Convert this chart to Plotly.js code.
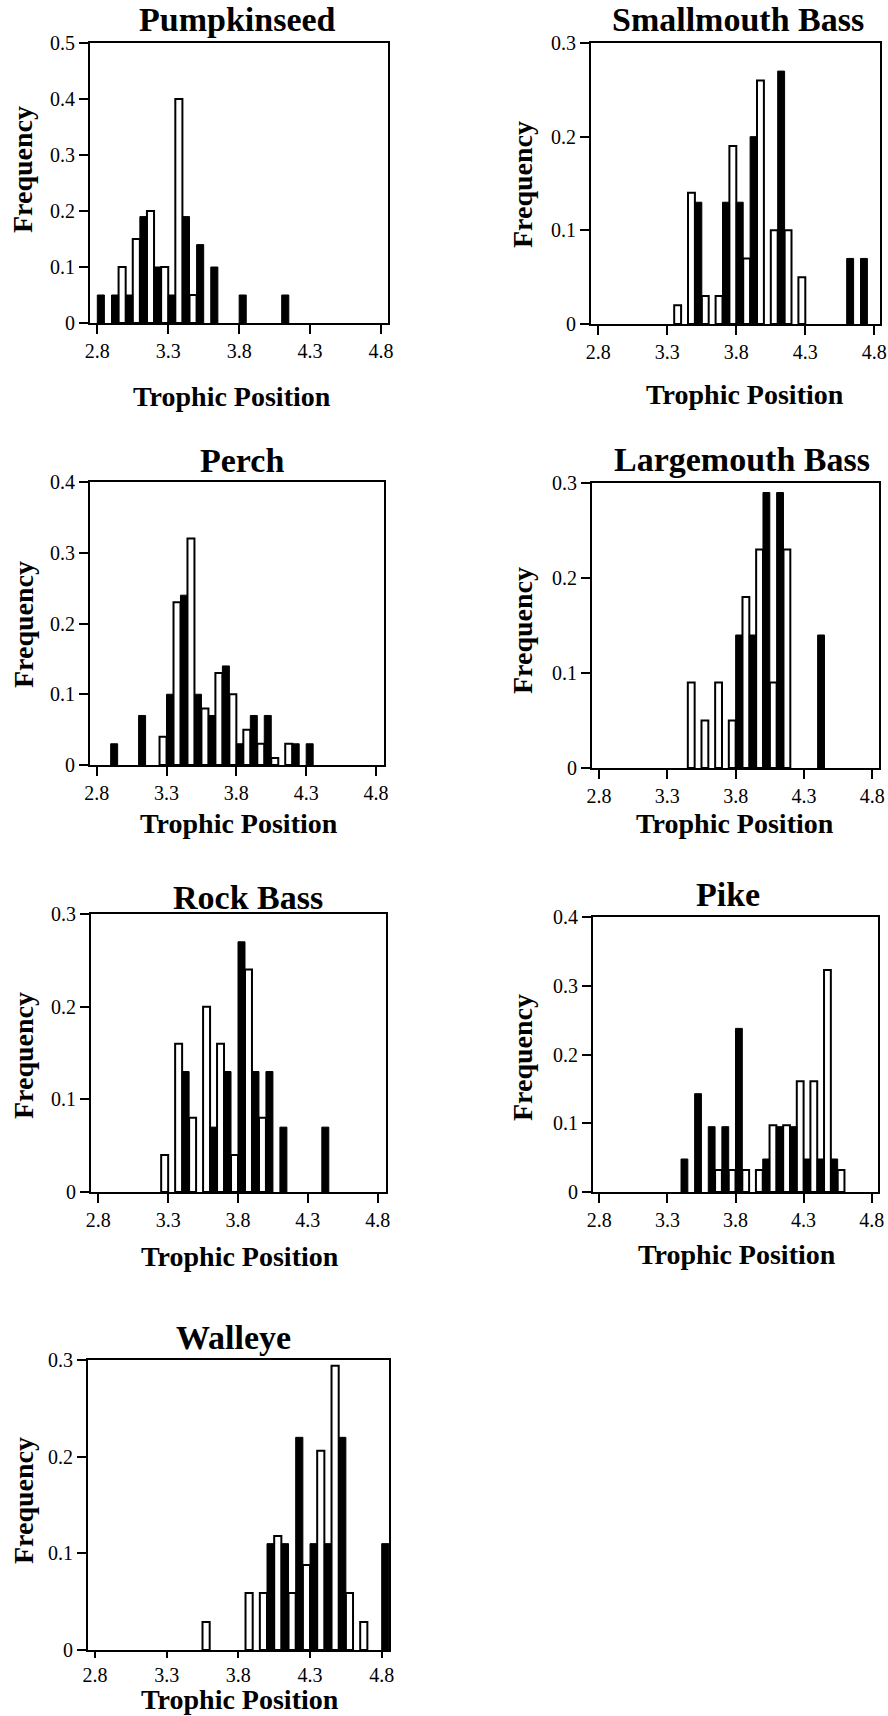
<!DOCTYPE html>
<html>
<head>
<meta charset="utf-8">
<script src="https://cdn.plot.ly/plotly-3.0.1.min.js"></script>
<style>html,body{margin:0;padding:0;background:#fff;}#chart{width:888px;height:1716px;}</style>
</head>
<body>
<div id="chart"></div>
<script>
// ---- Data (bin start values, frequencies) ----
const speciesNames = ["Pumpkinseed", "Smallmouth Bass", "Perch", "Largemouth Bass", "Rock Bass", "Pike", "Walleye"];
const xTickVals = [2.8, 3.3, 3.8, 4.3, 4.8];
const xAxisTitle = "Trophic Position";
const yAxisTitle = "Frequency";
const yMax = [0.5, 0.3, 0.4, 0.3, 0.3, 0.4, 0.3];

const pumpkinseedBlackBins = [2.8, 2.9, 3.0, 3.1, 3.2, 3.3, 3.4, 3.5, 3.6, 3.8, 4.1];
const pumpkinseedBlackFreq = [0.05, 0.05, 0.05, 0.19, 0.10, 0.05, 0.19, 0.14, 0.10, 0.05, 0.05];
const pumpkinseedWhiteBins = [2.9, 3.0, 3.1, 3.2, 3.3, 3.4];
const pumpkinseedWhiteFreq = [0.10, 0.15, 0.20, 0.10, 0.40, 0.05];

const smallmouthBlackBins = [3.5, 3.7, 3.8, 3.9, 4.1, 4.6, 4.7];
const smallmouthBlackFreq = [0.13, 0.13, 0.13, 0.20, 0.27, 0.07, 0.07];
const smallmouthWhiteBins = [3.3, 3.4, 3.5, 3.6, 3.7, 3.8, 3.9, 4.0, 4.1, 4.2];
const smallmouthWhiteFreq = [0.02, 0.14, 0.03, 0.03, 0.19, 0.07, 0.26, 0.10, 0.10, 0.05];

const perchBlackBins = [2.9, 3.1, 3.3, 3.4, 3.5, 3.6, 3.7, 3.8, 3.9, 4.0, 4.2, 4.3];
const perchBlackFreq = [0.03, 0.07, 0.10, 0.24, 0.10, 0.07, 0.14, 0.03, 0.07, 0.07, 0.03, 0.03];
const perchWhiteBins = [3.2, 3.3, 3.4, 3.5, 3.6, 3.7, 3.8, 3.9, 4.0, 4.1];
const perchWhiteFreq = [0.04, 0.23, 0.32, 0.08, 0.13, 0.10, 0.05, 0.03, 0.01, 0.03];

const largemouthBlackBins = [3.8, 3.9, 4.0, 4.1, 4.4];
const largemouthBlackFreq = [0.14, 0.14, 0.29, 0.29, 0.14];
const largemouthWhiteBins = [3.4, 3.5, 3.6, 3.7, 3.8, 3.9, 4.0, 4.1];
const largemouthWhiteFreq = [0.09, 0.05, 0.09, 0.05, 0.18, 0.23, 0.09, 0.23];

const rockBassBlackBins = [3.4, 3.6, 3.7, 3.8, 3.9, 4.0, 4.1, 4.4];
const rockBassBlackFreq = [0.13, 0.07, 0.13, 0.27, 0.13, 0.13, 0.07, 0.07];
const rockBassWhiteBins = [3.2, 3.3, 3.4, 3.5, 3.6, 3.7, 3.8, 3.9];
const rockBassWhiteFreq = [0.04, 0.16, 0.08, 0.20, 0.16, 0.04, 0.24, 0.08];

const pikeBlackBins = [3.4, 3.5, 3.6, 3.7, 3.8, 4.0, 4.1, 4.2, 4.3, 4.4, 4.5];
const pikeBlackFreq = [0.048, 0.143, 0.095, 0.095, 0.238, 0.048, 0.095, 0.095, 0.048, 0.048, 0.048];
const pikeWhiteBins = [3.6, 3.7, 3.8, 3.9, 4.0, 4.1, 4.2, 4.3, 4.4, 4.5];
const pikeWhiteFreq = [0.032, 0.032, 0.032, 0.032, 0.097, 0.097, 0.161, 0.161, 0.323, 0.032];

const walleyeBlackBins = [4.0, 4.1, 4.2, 4.3, 4.4, 4.5, 4.8];
const walleyeBlackFreq = [0.11, 0.11, 0.22, 0.11, 0.11, 0.22, 0.11];
const walleyeWhiteBins = [3.5, 3.8, 3.9, 4.0, 4.1, 4.2, 4.3, 4.4, 4.5, 4.6];
const walleyeWhiteFreq = [0.029, 0.059, 0.059, 0.118, 0.059, 0.088, 0.206, 0.294, 0.059, 0.029];

const blackSeries = [
  [pumpkinseedBlackBins, pumpkinseedBlackFreq],
  [smallmouthBlackBins, smallmouthBlackFreq],
  [perchBlackBins, perchBlackFreq],
  [largemouthBlackBins, largemouthBlackFreq],
  [rockBassBlackBins, rockBassBlackFreq],
  [pikeBlackBins, pikeBlackFreq],
  [walleyeBlackBins, walleyeBlackFreq]
];
const whiteSeries = [
  [pumpkinseedWhiteBins, pumpkinseedWhiteFreq],
  [smallmouthWhiteBins, smallmouthWhiteFreq],
  [perchWhiteBins, perchWhiteFreq],
  [largemouthWhiteBins, largemouthWhiteFreq],
  [rockBassWhiteBins, rockBassWhiteFreq],
  [pikeWhiteBins, pikeWhiteFreq],
  [walleyeWhiteBins, walleyeWhiteFreq]
];

// ---- Layout geometry (pixels) ----
const W = 888, H = 1716;
// frame: left, right, top, bottom, tick px of 2.8 and 4.8, x tick length
const frames = [
  {l: 90, r: 388, t: 43, b: 323, t28: 97.3, t48: 381, tl: 9},
  {l: 591, r: 880, t: 43, b: 324, t28: 598.3, t48: 874.3, tl: 9},
  {l: 90, r: 384, t: 482, b: 765, t28: 96.7, t48: 376, tl: 9},
  {l: 592, r: 879, t: 483, b: 768, t28: 599, t48: 872.3, tl: 9},
  {l: 91, r: 386, t: 914, b: 1192, t28: 98.3, t48: 377.7, tl: 9},
  {l: 593, r: 878, t: 917, b: 1192, t28: 599.3, t48: 871.7, tl: 9},
  {l: 88, r: 389, t: 1360, b: 1650, t28: 95, t48: 381.7, tl: 6}
];
const titlePos = [[237, 19], [738, 19], [242, 460], [742, 459], [248, 897], [728, 895], [233, 1337]];
const xTitlePos = [[232, 396], [745, 394], [239, 824], [735, 824], [240, 1256], [737, 1254], [240, 1699]];
const yTitlePos = [[22, 170], [522, 185], [23, 625], [522, 631], [23, 1056], [522, 1058], [23, 1501]];

const FONT = "Liberation Serif, Times New Roman, serif";
const traces = [];
const layout = {
  width: W, height: H,
  margin: {l: 0, r: 0, t: 0, b: 0},
  paper_bgcolor: "#fff", plot_bgcolor: "#fff",
  showlegend: false,
  barmode: "overlay",
  annotations: [],
  font: {family: FONT, color: "#000"}
};

frames.forEach((f, i) => {
  const n = i === 0 ? "" : String(i + 1);
  const xa = "x" + n, ya = "y" + n;
  const ppu = (f.t48 - f.t28) / 2;
  const xr = [2.8 - (f.t28 - f.l) / ppu, 2.8 + (f.r - f.t28) / ppu];
  const axCommon = {
    showline: true, mirror: true, linecolor: "#000", linewidth: 2,
    ticks: "outside", tickwidth: 2, tickcolor: "#000",
    showgrid: false, zeroline: false, fixedrange: true,
    tickfont: {family: FONT, size: 20, color: "#000"}
  };
  layout["xaxis" + n] = Object.assign({}, axCommon, {
    domain: [f.l / W, f.r / W], anchor: ya, range: xr, ticklen: f.tl,
    tickmode: "array", tickvals: xTickVals, ticktext: xTickVals.map(v => v.toFixed(1))
  });
  layout["yaxis" + n] = Object.assign({}, axCommon, {
    domain: [1 - f.b / H, 1 - f.t / H], anchor: xa, range: [0, yMax[i]], ticklen: 9,
    tick0: 0, dtick: 0.1
  });

  const wh = whiteSeries[i];
  traces.push({
    type: "bar", x: wh[0], y: wh[1], xaxis: xa, yaxis: ya,
    offset: 0.05, width: 0.05,
    marker: {color: "#fff", line: {color: "#000", width: 2}},
    hoverinfo: "x+y"
  });
  const bk = blackSeries[i];
  traces.push({
    type: "bar", x: bk[0], y: bk[1], xaxis: xa, yaxis: ya,
    offset: 0, width: 0.05,
    marker: {color: "#000", line: {color: "#000", width: 1}},
    hoverinfo: "x+y"
  });

  layout.annotations.push({
    text: "<b>" + speciesNames[i] + "</b>", xref: "paper", yref: "paper",
    x: titlePos[i][0] / W, y: 1 - titlePos[i][1] / H, xanchor: "center", yanchor: "middle",
    showarrow: false, font: {family: FONT, size: 34, color: "#000"}
  });
  layout.annotations.push({
    text: "<b>" + xAxisTitle + "</b>", xref: "paper", yref: "paper",
    x: xTitlePos[i][0] / W, y: 1 - xTitlePos[i][1] / H, xanchor: "center", yanchor: "middle",
    showarrow: false, font: {family: FONT, size: 28, color: "#000"}
  });
  layout.annotations.push({
    text: "<b>" + yAxisTitle + "</b>", xref: "paper", yref: "paper",
    x: yTitlePos[i][0] / W, y: 1 - yTitlePos[i][1] / H, xanchor: "center", yanchor: "middle",
    textangle: -90,
    showarrow: false, font: {family: FONT, size: 28, color: "#000"}
  });
});

Plotly.newPlot("chart", traces, layout, {displayModeBar: false, staticPlot: true});
</script>
</body>
</html>
